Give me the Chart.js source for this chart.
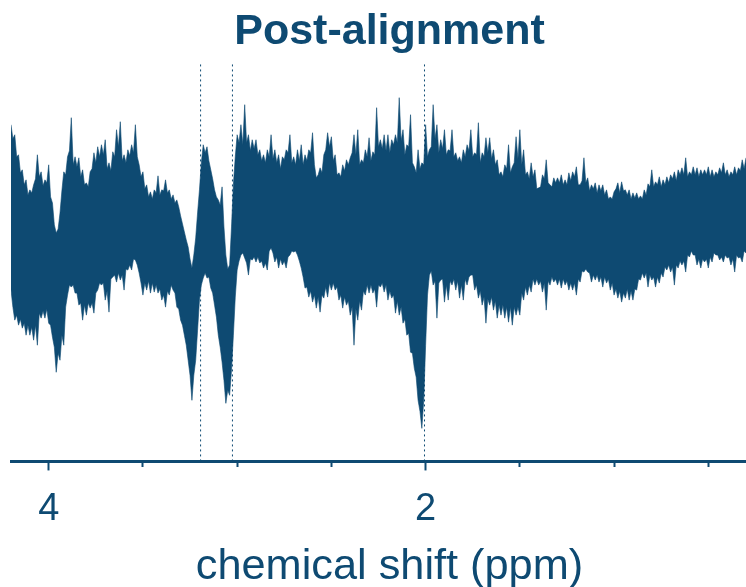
<!DOCTYPE html>
<html>
<head>
<meta charset="utf-8">
<title>Post-alignment</title>
<script src="https://cdn.jsdelivr.net/npm/chart.js@4/dist/chart.umd.min.js"></script>
<style>
  html, body { margin: 0; padding: 0; background: #fff; }
  canvas { display: block; }
</style>
</head>
<body>
<canvas id="spectrum" width="746" height="587"></canvas>
<script>
// ppm positions the envelope was read at
const shifts = [
  4.20,4.19,4.18,4.17,4.16,4.15,4.14,4.13,4.12,4.11,4.10,4.09,4.08,4.07,4.06,4.05,4.04,4.03,4.02,4.01,
  4.00,3.99,3.98,3.97,3.96,3.95,3.94,3.93,3.92,3.91,3.90,3.89,3.88,3.87,3.86,3.85,3.84,3.83,3.82,3.81,
  3.80,3.79,3.78,3.77,3.76,3.75,3.74,3.73,3.72,3.71,3.70,3.69,3.68,3.67,3.66,3.65,3.64,3.63,3.62,3.61,
  3.60,3.59,3.58,3.57,3.56,3.55,3.54,3.53,3.52,3.51,3.50,3.49,3.48,3.47,3.46,3.45,3.44,3.43,3.42,3.41,
  3.40,3.39,3.38,3.37,3.36,3.35,3.34,3.33,3.32,3.31,3.30,3.29,3.28,3.27,3.26,3.25,3.24,3.23,3.22,3.21,
  3.20,3.19,3.18,3.17,3.16,3.15,3.14,3.13,3.12,3.11,3.10,3.09,3.08,3.07,3.06,3.05,3.04,3.03,3.02,3.01,
  3.00,2.99,2.98,2.97,2.96,2.95,2.94,2.93,2.92,2.91,2.90,2.89,2.88,2.87,2.86,2.85,2.84,2.83,2.82,2.81,
  2.80,2.79,2.78,2.77,2.76,2.75,2.74,2.73,2.72,2.71,2.70,2.69,2.68,2.67,2.66,2.65,2.64,2.63,2.62,2.61,
  2.60,2.59,2.58,2.57,2.56,2.55,2.54,2.53,2.52,2.51,2.50,2.49,2.48,2.47,2.46,2.45,2.44,2.43,2.42,2.41,
  2.40,2.39,2.38,2.37,2.36,2.35,2.34,2.33,2.32,2.31,2.30,2.29,2.28,2.27,2.26,2.25,2.24,2.23,2.22,2.21,
  2.20,2.19,2.18,2.17,2.16,2.15,2.14,2.13,2.12,2.11,2.10,2.09,2.08,2.07,2.06,2.05,2.04,2.03,2.02,2.01,
  2.00,1.99,1.98,1.97,1.96,1.95,1.94,1.93,1.92,1.91,1.90,1.89,1.88,1.87,1.86,1.85,1.84,1.83,1.82,1.81,
  1.80,1.79,1.78,1.77,1.76,1.75,1.74,1.73,1.72,1.71,1.70,1.69,1.68,1.67,1.66,1.65,1.64,1.63,1.62,1.61,
  1.60,1.59,1.58,1.57,1.56,1.55,1.54,1.53,1.52,1.51,1.50,1.49,1.48,1.47,1.46,1.45,1.44,1.43,1.42,1.41,
  1.40,1.39,1.38,1.37,1.36,1.35,1.34,1.33,1.32,1.31,1.30,1.29,1.28,1.27,1.26,1.25,1.24,1.23,1.22,1.21,
  1.20,1.19,1.18,1.17,1.16,1.15,1.14,1.13,1.12,1.11,1.10,1.09,1.08,1.07,1.06,1.05,1.04,1.03,1.02,1.01,
  1.00,0.99,0.98,0.97,0.96,0.95,0.94,0.93,0.92,0.91,0.90,0.89,0.88,0.87,0.86,0.85,0.84,0.83,0.82,0.81,
  0.80,0.79,0.78,0.77,0.76,0.75,0.74,0.73,0.72,0.71,0.70,0.69,0.68,0.67,0.66,0.65,0.64,0.63,0.62,0.61,
  0.60,0.59,0.58,0.57,0.56,0.55,0.54,0.53,0.52,0.51,0.50,0.49,0.48,0.47,0.46,0.45,0.44,0.43,0.42,0.41,
  0.40,0.39,0.38,0.37,0.36,0.35,0.34,0.33,0.32,0.31,0.30
];

// top of the overlaid spectra, arbitrary intensity
const upperEnvelope = [
  110,96,100,78,80,62,65,50,55,40,45,42,50,56,80,58,63,49,55,52,
  70,38,32,10,2,6,22,44,63,60,78,84,117,70,78,68,77,58,65,50,
  52,48,63,66,82,72,88,78,90,80,95,66,72,64,83,78,105,88,113,74,
  80,72,85,79,90,82,110,78,70,58,63,46,50,38,43,36,45,42,59,40,
  45,44,55,42,45,36,40,32,35,28,19,11,3,-5,-12,-24,-33,-20,-3,22,
  45,72,90,82,88,74,65,56,45,38,35,30,48,8,-20,-34,-30,8,50,78,
  100,92,110,90,130,92,100,84,95,86,95,80,85,74,80,72,85,78,100,76,
  85,72,80,66,78,75,85,82,100,72,78,70,85,74,90,70,80,74,85,82,
  102,70,57,60,67,62,80,85,102,88,98,74,80,60,62,58,70,64,75,70,
  77,82,100,80,105,70,75,72,85,78,97,74,83,80,127,88,95,86,100,84,
  100,82,95,90,100,92,137,94,105,80,90,88,120,72,68,62,85,66,72,70,
  110,78,85,88,130,96,110,82,95,86,105,80,85,84,105,78,82,74,78,72,
  85,78,90,84,105,78,82,80,112,72,82,78,97,82,97,76,85,70,75,60,
  63,58,70,66,90,62,68,72,98,76,105,70,85,60,63,56,72,58,65,46,
  47,48,60,56,75,52,50,48,57,52,57,52,60,50,55,50,62,54,63,58,
  68,50,50,54,77,52,57,44,50,46,52,42,50,44,50,40,45,36,38,36,
  43,46,52,42,53,44,45,40,45,36,42,37,42,36,39,36,45,40,51,48,
  65,48,53,50,58,48,55,50,58,52,60,56,63,54,65,60,67,60,77,58,
  63,60,68,60,67,58,65,60,65,60,68,58,65,58,63,60,67,62,72,60,
  65,58,63,60,68,60,67,64,75,66,77
];

// bottom of the overlaid spectra
const lowerEnvelope = [
  -55,-72,-85,-80,-90,-84,-93,-88,-100,-90,-100,-92,-105,-90,-110,-78,-83,-76,-83,-74,
  -88,-90,-102,-112,-137,-118,-125,-100,-110,-72,-60,-50,-52,-50,-58,-58,-70,-68,-85,-70,
  -80,-68,-73,-68,-78,-58,-55,-48,-50,-48,-65,-56,-77,-44,-42,-40,-47,-38,-45,-40,
  -55,-34,-35,-30,-35,-24,-25,-30,-38,-48,-60,-48,-55,-46,-58,-48,-57,-50,-58,-54,
  -65,-60,-72,-56,-60,-50,-55,-58,-72,-74,-85,-90,-100,-110,-125,-140,-165,-140,-125,-95,
  -65,-50,-43,-38,-43,-42,-53,-58,-70,-82,-100,-112,-127,-145,-168,-155,-160,-135,-100,-62,
  -35,-26,-20,-18,-23,-28,-40,-24,-25,-22,-27,-22,-28,-26,-33,-28,-35,-16,-13,-18,
  -27,-22,-33,-24,-30,-26,-33,-22,-20,-16,-17,-16,-20,-26,-33,-42,-53,-52,-62,-56,
  -67,-60,-73,-62,-77,-60,-63,-52,-62,-48,-55,-48,-55,-52,-65,-60,-73,-62,-70,-66,
  -80,-72,-110,-74,-85,-66,-75,-56,-60,-50,-58,-50,-58,-54,-72,-50,-52,-48,-57,-50,
  -65,-56,-63,-60,-78,-66,-80,-72,-88,-84,-100,-98,-117,-118,-133,-142,-165,-176,-193,-165,
  -110,-60,-40,-36,-50,-46,-83,-48,-45,-44,-67,-50,-65,-46,-50,-44,-55,-46,-63,-50,
  -65,-44,-50,-42,-40,-40,-55,-50,-63,-56,-70,-62,-88,-64,-70,-62,-75,-66,-83,-70,
  -80,-70,-83,-72,-87,-72,-90,-72,-80,-72,-80,-58,-65,-52,-60,-50,-57,-44,-50,-44,
  -50,-46,-57,-48,-75,-46,-50,-42,-47,-44,-50,-44,-53,-44,-50,-46,-55,-48,-55,-48,
  -60,-44,-47,-36,-37,-34,-37,-38,-47,-40,-45,-40,-47,-42,-52,-42,-48,-44,-55,-48,
  -60,-54,-63,-56,-67,-58,-63,-54,-65,-56,-65,-54,-55,-44,-45,-38,-43,-38,-52,-40,
  -45,-42,-52,-42,-48,-38,-42,-32,-35,-30,-37,-32,-50,-30,-33,-26,-30,-26,-37,-20,
  -22,-16,-20,-20,-30,-24,-33,-24,-27,-24,-33,-22,-27,-18,-20,-20,-25,-22,-27,-20,
  -23,-22,-30,-24,-37,-20,-23,-22,-27,-16,-18
];

const markerShifts = [3.194, 3.025, 2.006];
const labelledTicks = [4, 2];

const navy = '#0e4a72';
const font = '"Liberation Sans", Arial, sans-serif';
const yMin = -226, yMax = 173;
const titleNudge = 11;

const toPoints = values => values.map((v, i) => ({ x: shifts[i], y: v }));

const markerSets = markerShifts.map(s => ({
    data: [{ x: s, y: yMin }, { x: s, y: yMax }],
    showLine: true,
    borderColor: navy,
    borderWidth: 1,
    borderDash: [2, 3],
    pointRadius: 0
}));

// both titles sit a little right of the plot centre in the original
const nudgeTitles = {
    id: 'nudgeTitles',
    afterLayout(chart) {
        chart.titleBlock.left += titleNudge;
        chart.titleBlock.right += titleNudge;
        const scale = chart.scales.x;
        if (!scale.nudged) {
            const drawTitle = scale.drawTitle;
            scale.drawTitle = function () {
                chart.ctx.save();
                chart.ctx.translate(titleNudge, 0);
                drawTitle.call(scale);
                chart.ctx.restore();
            };
            scale.nudged = true;
        }
    }
};

new Chart(document.getElementById('spectrum').getContext('2d'), {
    type: 'scatter',
    plugins: [nudgeTitles],
    data: {
        datasets: [
            {
                data: toPoints(upperEnvelope),
                showLine: true,
                borderColor: 'rgba(14,74,114,0.6)',
                borderWidth: 1,
                pointRadius: 0,
                tension: 0
            },
            {
                data: toPoints(lowerEnvelope),
                showLine: true,
                borderColor: 'rgba(14,74,114,0.6)',
                borderWidth: 1,
                pointRadius: 0,
                tension: 0,
                fill: '-1',
                backgroundColor: navy
            },
            ...markerSets
        ]
    },
    options: {
        responsive: false,
        animation: false,
        layout: { padding: { left: 11, right: 0, top: 0, bottom: 0 } },
        plugins: {
            legend: { display: false },
            tooltip: { enabled: false },
            title: {
                display: true,
                text: 'Post-alignment',
                color: navy,
                font: { family: font, size: 43, weight: 'bold' },
                padding: { top: 6, bottom: 4 }
            }
        },
        scales: {
            x: {
                type: 'linear',
                reverse: true,
                min: 0.3,
                max: 4.2,
                border: { color: navy, width: 3 },
                grid: {
                    drawOnChartArea: false,
                    tickLength: 9,
                    tickWidth: 2,
                    tickColor: navy,
                    // shorter ticks for the unlabelled half-ppm marks
                    tickBorderDash: ctx => labelledTicks.includes(ctx.tick.value) ? [] : [4, 50]
                },
                ticks: {
                    stepSize: 0.5,
                    includeBounds: false,
                    autoSkip: false,
                    maxRotation: 0,
                    color: navy,
                    padding: 16,
                    font: { family: font, size: 38 },
                    callback: v => labelledTicks.includes(v) ? String(v) : ''
                },
                title: {
                    display: true,
                    text: 'chemical shift (ppm)',
                    color: navy,
                    font: { family: font, size: 43.3 },
                    padding: { top: -7, bottom: -6 }
                }
            },
            y: { display: false, min: yMin, max: yMax }
        }
    }
});
</script>
</body>
</html>
